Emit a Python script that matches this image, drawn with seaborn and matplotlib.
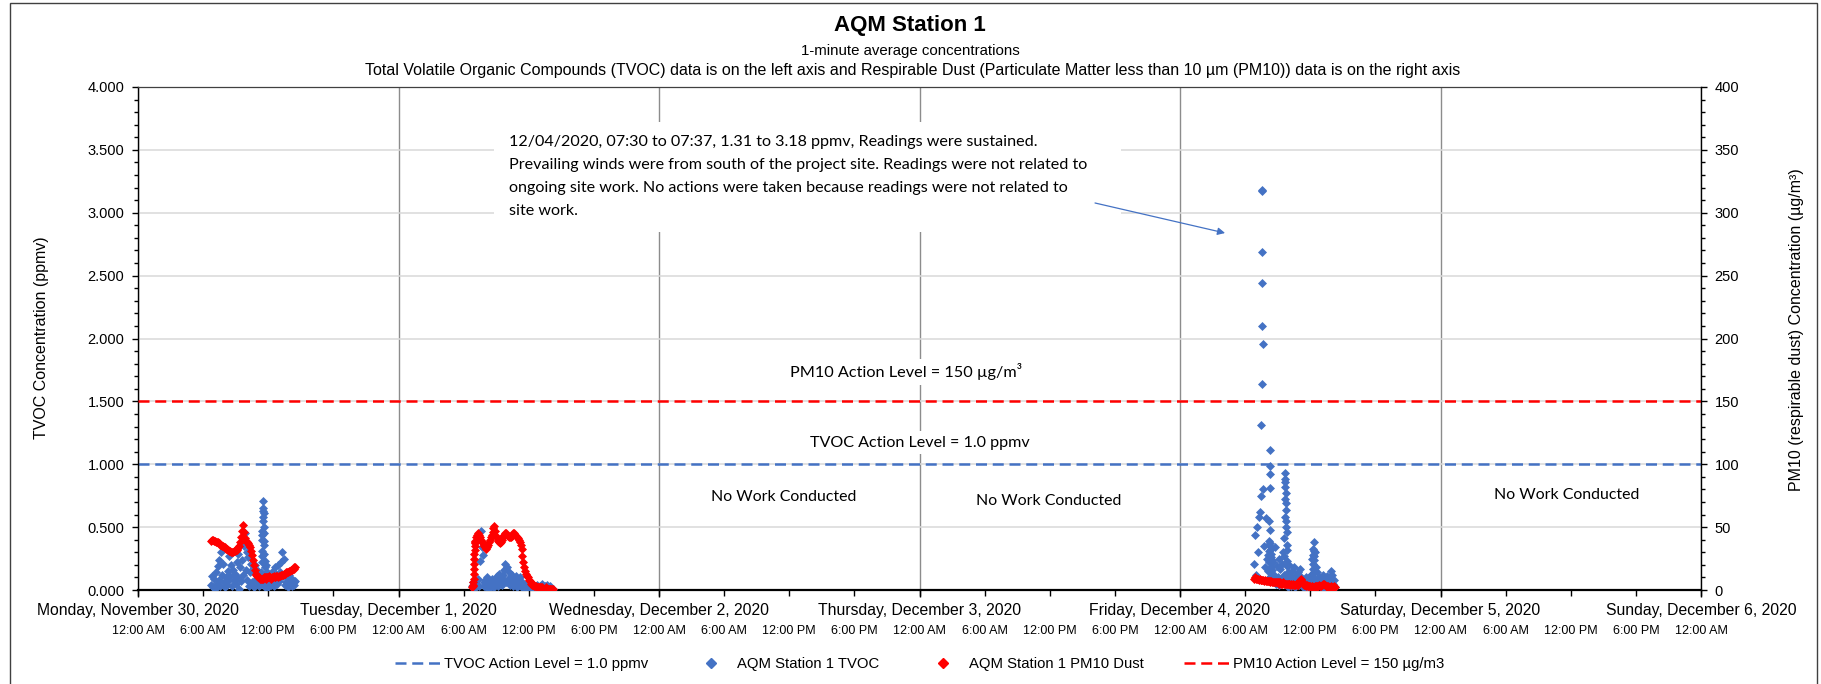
import numpy as np
import pandas as pd
import matplotlib
matplotlib.use("Agg")
import matplotlib.pyplot as plt
import matplotlib.dates as mdates
import matplotlib.ticker as mticker
from matplotlib.patches import Rectangle
from matplotlib.lines import Line2D
import seaborn as sns

# ---------------- data ----------------
TVOC_ACTION = 1.0      # ppmv
PM10_ACTION = 150      # ug/m3

# 5-minute readings (None = minutes shown in the 1-minute detail lists below)
mon_start = "2020-11-30 06:45"
tvoc_mon = [0.04, 0.11, 0.02,
            0.09, 0.01, 0.14, 0.05, 0.19, 0.08, 0.24, 0.03, 0.30, 0.12, 0.21, 0.06,
            0.02, 0.10, 0.04, 0.15, 0.07, 0.27, 0.11, 0.20, 0.03, 0.16, 0.08, 0.13,
            0.05, 0.22, 0.10, 0.29, 0.01, 0.18, 0.07, 0.24, 0.12, 0.35, 0.45, 0.16,
            0.30, 0.08, 0.26, 0.03, 0.14, 0.21, 0.06, 0.17, 0.02, 0.20, 0.09, 0.13,
            0.06, 0.15, 0.03, 0.12, None, None, None, None, None, 0.20, 0.05, 0.14,
            0.02, 0.08, 0.10, 0.04, 0.06, 0.15, 0.03, 0.18, 0.09, 0.12, 0.05, 0.20,
            0.07, 0.14, 0.22, 0.30, 0.11, 0.25, 0.04, 0.12, 0.06, 0.10, 0.02, 0.12,
            0.05, 0.09, 0.03, 0.08, 0.06, 0.04, 0.07]
pm10_mon = [39, 40, 40,
            39, 39, 38, 38, 38, 37, 37, 36, 36, 35, 35, 34,
            34, 33, 33, 32, 32, 31, 31, 30, 30, 30, 31, 31,
            32, 32, 33, 34, 35, 38, 42, 47, 52, 46, 41, 39,
            38, 38, 37, 36, 34, 31, 28, 24, 20, 16, 13, 12,
            11, 10, 10, 9, 9, 9, 9, 10, 10, 9, 10, 10,
            10, 11, 10, 9, 10, 10, 11, 10, 10, 11, 11, 10,
            11, 11, 12, 12, 12, 13, 13, 13, 14, 14, 14, 15,
            15, 16, 16, 17, 17, 18, 18]

tue_start = "2020-12-01 06:45"
tvoc_tue = [0.03, 0.06, 0.01,
            0.05, 0.02, 0.07, 0.04, 0.09, 0.03, 0.23, 0.47, 0.34, 0.28, 0.06, 0.03,
            0.08, 0.02, 0.10, 0.05, 0.01, 0.07, 0.04, 0.09, 0.03, 0.06, 0.02, 0.08,
            0.05, 0.11, 0.03, 0.13, 0.07, 0.10, 0.04, 0.12, 0.08, 0.16, 0.21, 0.06,
            0.18, 0.09, 0.14, 0.04, 0.10, 0.07, 0.12, 0.03, 0.09, 0.06, 0.11, 0.02,
            0.08, 0.04, 0.10, 0.03, 0.06, 0.02, 0.05, 0.01, 0.04, 0.02, 0.03, 0.01,
            0.03, 0.01, 0.02, 0.04, 0.01, 0.02, 0.03, 0.01, 0.02, 0.04, 0.01, 0.02,
            0.03, 0.01, 0.02, 0.05, 0.02, 0.01, 0.03, 0.02, 0.04, 0.01, 0.02, 0.03,
            0.02, 0.01, 0.00, 0.01]
pm10_tue = [2, 3, None,
            None, 39, 42, 44, 45, 44, 42, 40, 38, 37, 36, 35,
            34, 33, 34, 36, 38, 40, 42, 44, 46, 49, 51, 47,
            43, 41, 39, 38, 37, 38, 40, 42, 43, 44, 45, 45,
            44, 43, 42, 42, 42, 43, 44, 45, 45, 44, 43, 42,
            41, 40, 38, 36, 33, 27, 22, 18, 15, 13, 11, 10,
            8, 7, 6, 5, 4, 4, 3, 3, 3, 2, 2, 2,
            2, 2, 1, 2, 1, 1, 1, 2, 1, 1, 1, 1,
            1, 1, 1, 1]

fri_start = "2020-12-04 06:50"
tvoc_fri = [0.21, 0.44,
            0.12, 0.50, 0.30, 0.58, 0.62, 0.75, None, None, 0.80, 0.35, 0.18, 0.57,
            0.25, 0.09, None, None, None, None, 0.07, 0.22, 0.12, 0.34, 0.05, 0.19,
            0.10, 0.25, 0.04, 0.17, 0.08, 0.21, 0.30, None, None, None, None, None,
            0.06, 0.20, 0.11, 0.03, 0.15, 0.08, 0.18, 0.02, 0.12, 0.05, 0.09, 0.14,
            0.04, 0.17, 0.10, 0.06, 0.02, 0.08, 0.03, 0.10, 0.01, 0.05, 0.07, 0.02,
            0.06, 0.12, 0.25, None, None, 0.30, 0.18, 0.08, 0.14, 0.04, 0.10, 0.03,
            0.08, 0.02, 0.12, 0.05, 0.09, 0.01, 0.06, 0.11, 0.03, 0.07, 0.10, 0.15,
            0.12, 0.05, 0.08, 0.02]
pm10_fri = [9, 10,
            9, 9, 9, 8, 9, 8, 8, 8, 8, 7, 8, 7,
            7, 7, 7, 7, 6, 7, 6, 6, 6, 6, 6, 6,
            6, 6, 5, 6, 5, 5, 6, 5, 5, 5, 5, 5,
            5, 5, 4, 5, 4, 5, 4, 4, 5, 4, 4, 5,
            6, 8, 9, 7, 5, 4, 4, 3, 4, 3, 3, 3,
            3, 2, 3, 2, 2, 3, 3, 2, 3, 3, 4, 3,
            3, 4, 5, 5, 4, 3, 3, 2, 3, 2, 2, 3,
            2, 2, 3, 2]

# 1-minute detail
mon_1min_start = "2020-11-30 11:20"
tvoc_mon_1min = [0.05, 0.14, 0.09, 0.22, 0.31, 0.27, 0.40, 0.47, 0.44, 0.55, 0.63, 0.71, 0.65,
                 0.58, 0.61, 0.50, 0.45, 0.36, 0.39, 0.29, 0.23, 0.18, 0.12, 0.08, 0.02]
tue_1min_start = "2020-12-01 06:53"
pm10_tue_1min = [4, 6, 9, 13, 17, 21, 25, 29, 32, 35, 37, 38]
fri_event_start = "2020-12-04 07:30"
tvoc_fri_event = [1.31, 1.64, 2.10, 3.17, 3.18, 2.69, 2.44, 1.96]
fri_1min_a_start = "2020-12-04 08:08"
tvoc_fri_1min_a = [0.15, 0.28, 0.36, 0.22, 0.39, 0.31, 0.55, 0.81, 0.99, 1.11, 0.92,
                   0.48, 0.37, 0.26, 0.33, 0.18, 0.29, 0.11, 0.24, 0.07, 0.16]
fri_1min_b_start = "2020-12-04 09:35"
tvoc_fri_1min_b = [0.12, 0.27, 0.41, 0.58, 0.72, 0.86, 0.93, 0.88, 0.82, 0.77, 0.69, 0.64,
                   0.55, 0.50, 0.46, 0.36, 0.32, 0.23, 0.19, 0.09, 0.14, 0.05, 0.02, 0.08]
fri_1min_c_start = "2020-12-04 12:11"
tvoc_fri_1min_c = [0.05, 0.13, 0.10, 0.21, 0.17, 0.28, 0.33, 0.38, 0.31, 0.24, 0.27, 0.14, 0.08, 0.03]

x_start, x_end = "2020-11-30 00:00", "2020-12-06 00:00"

# ---------------- frames ----------------
def frame(start, values, freq):
    return pd.DataFrame({"time": pd.date_range(start, periods=len(values), freq=freq),
                         "value": np.array(values, dtype=float)})

tvoc_df = pd.concat([frame(mon_start, tvoc_mon, "5min"), frame(tue_start, tvoc_tue, "5min"),
                     frame(fri_start, tvoc_fri, "5min"), frame(mon_1min_start, tvoc_mon_1min, "1min"),
                     frame(fri_event_start, tvoc_fri_event, "1min"),
                     frame(fri_1min_a_start, tvoc_fri_1min_a, "1min"),
                     frame(fri_1min_b_start, tvoc_fri_1min_b, "1min"),
                     frame(fri_1min_c_start, tvoc_fri_1min_c, "1min")]).dropna()
pm10_df = pd.concat([frame(mon_start, pm10_mon, "5min"), frame(tue_start, pm10_tue, "5min"),
                     frame(tue_1min_start, pm10_tue_1min, "1min"),
                     frame(fri_start, pm10_fri, "5min")]).dropna()

# ---------------- style ----------------
sns.set_theme(style="white")
plt.rcParams["font.family"] = ["Liberation Sans", "DejaVu Sans"]
for k in ["text.color", "axes.labelcolor", "xtick.color", "ytick.color"]:
    plt.rcParams[k] = "black"

BLUE = "#4472C4"
RED = "#FF0000"
CAL = ["Lato", "DejaVu Sans"]

W, H = 1821, 684
L, R, T, B = 138, 1701, 87, 590
fig = plt.figure(figsize=(W / 100, H / 100), dpi=100)
ax = fig.add_axes([L / W, 1 - B / H, (R - L) / W, (B - T) / H])
ax2 = ax.twinx()

sns.scatterplot(data=tvoc_df, x="time", y="value", ax=ax, marker="D", s=21,
                color=BLUE, linewidth=0, legend=False, zorder=3)
sns.scatterplot(data=pm10_df, x="time", y="value", ax=ax2, marker="D", s=21,
                color=RED, linewidth=0, legend=False, zorder=3)

tv_line = ax.axhline(TVOC_ACTION, color=BLUE, lw=1.8, dashes=(4.4, 2.3), zorder=2)
pm_line = ax2.axhline(PM10_ACTION, color=RED, lw=1.8, dashes=(4.4, 2.3), zorder=2)

ax.set_xlim(pd.Timestamp(x_start), pd.Timestamp(x_end))
ax.set_ylim(0, 4)
ax2.set_ylim(0, 400)
ax.set_xlabel("")
ax.set_ylabel("")
ax2.set_ylabel("")

# grid
ax.set_axisbelow(True)
ax.yaxis.grid(True, which="major", color="#D9D9D9", lw=1.1)
ax.xaxis.grid(True, which="major", color="#8C8C8C", lw=1.0)
ax2.grid(False)

# spines
for s in ["left", "bottom", "top", "right"]:
    ax.spines[s].set_visible(True)
ax.spines["left"].set_color("black"); ax.spines["left"].set_linewidth(1.0)
ax.spines["bottom"].set_color("black"); ax.spines["bottom"].set_linewidth(1.6)
ax.spines["top"].set_color("#404040"); ax.spines["top"].set_linewidth(0.9)
ax.spines["right"].set_visible(False)
for s in ["left", "bottom", "top"]:
    ax2.spines[s].set_visible(False)
ax2.spines["right"].set_visible(True)
ax2.spines["right"].set_color("black"); ax2.spines["right"].set_linewidth(1.0)

# y ticks
ax.yaxis.set_major_locator(mticker.MultipleLocator(0.5))
ax.yaxis.set_minor_locator(mticker.MultipleLocator(0.1))
ax.yaxis.set_major_formatter(mticker.FormatStrFormatter("%.3f"))
ax2.yaxis.set_major_locator(mticker.MultipleLocator(50))
ax2.yaxis.set_minor_locator(mticker.MultipleLocator(10))
ax2.yaxis.set_major_formatter(mticker.FormatStrFormatter("%d"))
ax.tick_params(axis="y", which="both", left=True, right=False, direction="out",
               color="black", width=1, labelsize=10.5, pad=5.8)
ax.tick_params(axis="y", which="major", length=4)
ax.tick_params(axis="y", which="minor", length=3)
ax2.tick_params(axis="y", which="both", right=True, left=False, direction="out",
                color="black", width=1, labelsize=10.5, pad=5.8)
ax2.tick_params(axis="y", which="major", length=4)
ax2.tick_params(axis="y", which="minor", length=3)

# x ticks: day names (major) and hours (minor)
def day_fmt(x, pos=None):
    d = mdates.num2date(x)
    return f"{d:%A}, {d:%B} {d.day}, {d.year}"

def hour_fmt(x, pos=None):
    d = mdates.num2date(x)
    return d.strftime("%I:%M %p").lstrip("0")

ax.xaxis.set_major_locator(mdates.DayLocator())
ax.xaxis.set_major_formatter(mticker.FuncFormatter(day_fmt))
ax.xaxis.set_minor_locator(mdates.HourLocator(byhour=[0, 6, 12, 18]))
ax.xaxis.set_minor_formatter(mticker.FuncFormatter(hour_fmt))
ax.xaxis.remove_overlapping_locs = False
ax.tick_params(axis="x", which="major", bottom=True, direction="out", length=5, width=1,
               color="black", labelsize=11.3, pad=4)
ax.tick_params(axis="x", which="minor", bottom=True, direction="out", length=4, width=1,
               color="black", labelsize=9, pad=21)

# annotations
ax2.add_patch(Rectangle((0.2278, 0.7117), 0.4011, 0.2187, transform=ax2.transAxes,
                        fc="white", ec="none", zorder=4))
callout = ("12/04/2020, 07:30 to 07:37, 1.31 to 3.18 ppmv, Readings were sustained.\n"
           "Prevailing winds were from south of the project site. Readings were not related to\n"
           "ongoing site work. No actions were taken because readings were not related to\n"
           "site work.")
ax2.text(0.2372, 0.822, callout, transform=ax2.transAxes, ha="left", va="center",
         fontsize=11.6, family=CAL, linespacing=1.82, zorder=5)
ax2.annotate("", xy=(0.6955, 0.7097), xytext=(0.6123, 0.7694), xycoords="axes fraction",
             textcoords="axes fraction",
             arrowprops=dict(arrowstyle="-|>", color=BLUE, lw=0.9, mutation_scale=11,
                             shrinkA=0, shrinkB=0), zorder=6)

box = dict(fc="white", ec="none", pad=3)
ax2.text(0.4914, 0.4334, "PM10 Action Level = 150 µg/m³", transform=ax2.transAxes,
         ha="center", va="center", fontsize=11.7, family=CAL, bbox=box, zorder=5)
ax2.text(0.5003, 0.2932, "TVOC Action Level = 1.0 ppmv", transform=ax2.transAxes,
         ha="center", va="center", fontsize=11.6, family=CAL, bbox=box, zorder=5)
for xf, yf in [(0.4133, 0.1849), (0.5829, 0.1779), (0.9143, 0.1889)]:
    ax2.text(xf, yf, "No Work Conducted", transform=ax2.transAxes, ha="center",
             va="center", fontsize=11.4, family=CAL, bbox=box, zorder=5)

# titles and axis titles
fig.text(910 / W, 1 - 25.5 / H, "AQM Station 1", ha="center", va="center",
         fontsize=16, fontweight="bold")
fig.text(910 / W, 1 - 51 / H, "1-minute average concentrations", ha="center", va="center",
         fontsize=10.8)
fig.text(913 / W, 1 - 70 / H,
         "Total Volatile Organic Compounds (TVOC) data is on the left axis and Respirable Dust "
         "(Particulate Matter less than 10 µm (PM10)) data is on the right axis",
         ha="center", va="center", fontsize=11.5)
fig.text(42 / W, 1 - 338 / H, "TVOC Concentration (ppmv)", rotation=90, ha="center",
         va="center", fontsize=11.5)
fig.text(1796 / W, 1 - 330 / H, "PM10 (respirable dust) Concentration (µg/m³)", rotation=90,
         ha="center", va="center", fontsize=11.5)

# legend
tv_line.set_label("TVOC Action Level = 1.0 ppmv")
pm_line.set_label("PM10 Action Level = 150 µg/m3")
h_tv = Line2D([], [], ls="none", marker="D", color=BLUE, markersize=5, label="AQM Station 1 TVOC")
h_pm = Line2D([], [], ls="none", marker="D", color=RED, markersize=5, label="AQM Station 1 PM10 Dust")
fig.legend(handles=[tv_line, h_tv, h_pm, pm_line], loc="center",
           bbox_to_anchor=(919.5 / W, 1 - 664 / H), ncol=4, frameon=False, fontsize=10.7,
           handlelength=3.1, handletextpad=0.2, columnspacing=2.7)

# chart border
fig.add_artist(Rectangle((10 / W, -0.1), (1817 - 10) / W, 1.1 - 3 / H, transform=fig.transFigure,
                         fill=False, ec="#404040", lw=1.0))

fig.savefig("out.png", dpi=100)
